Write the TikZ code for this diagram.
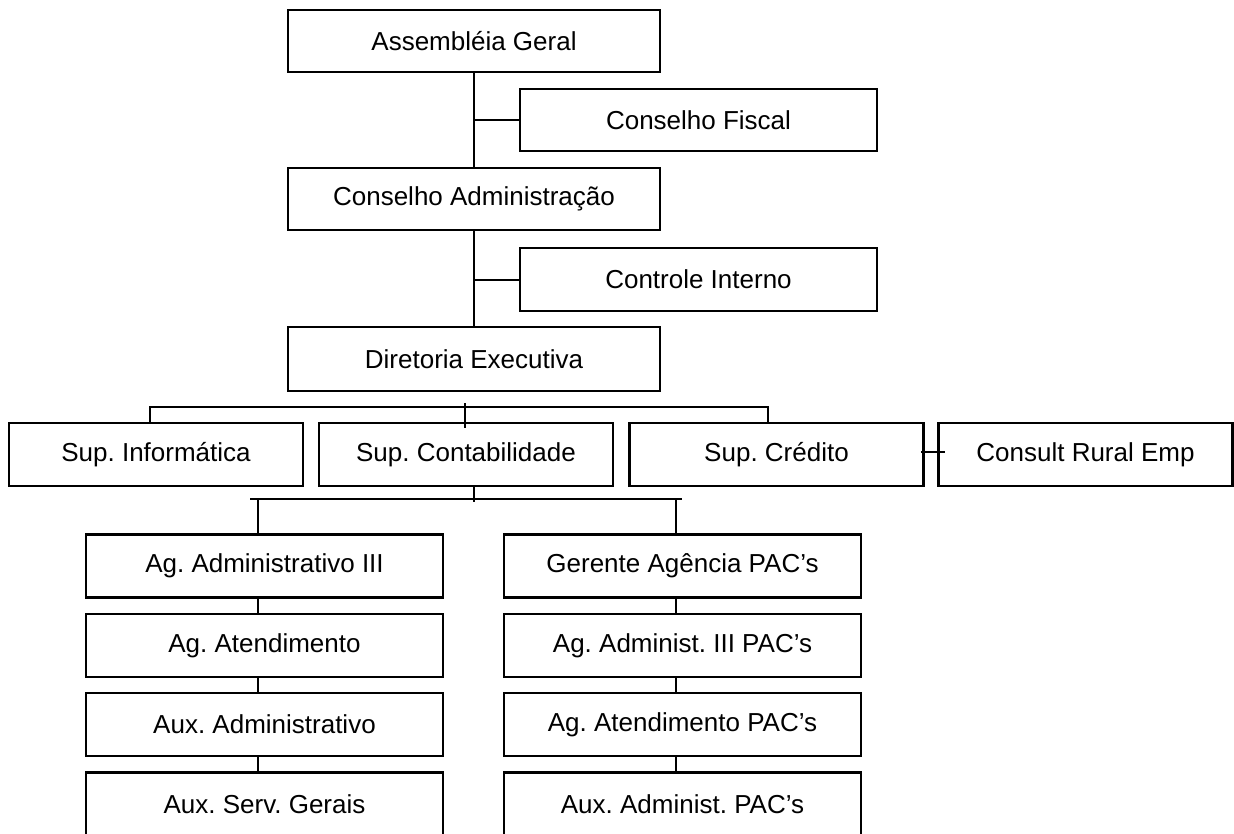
\documentclass[tikz,border=0pt]{standalone}
\usepackage{fontspec}
\setmainfont{Liberation Sans}
\frenchspacing
\begin{document}
\begin{tikzpicture}[x=0.75pt,y=-0.75pt,
  box/.style={draw=black,line width=1.6pt,rectangle,inner sep=0pt,align=center,
    font=\fontsize{19.5}{23}\selectfont\frenchspacing},
  topbox/.style={box,minimum width=372*0.75pt,minimum height=62*0.75pt},
  sidebox/.style={box,minimum width=357*0.75pt,minimum height=62*0.75pt},
  supbox/.style={box,minimum width=294*0.75pt,minimum height=63*0.75pt},
  lowbox/.style={box,minimum width=357*0.75pt,minimum height=63*0.75pt},
  conn/.style={draw=black,line width=1.5pt},
  thinconn/.style={draw=black,line width=0.8pt}]
\clip (0,0) rectangle (1234,834);
\fill[white] (0,0) rectangle (1234,834);

\node[topbox] (A) at (474,41) {Assembléia Geral};
\node[sidebox] (CF) at (698.5,120) {Conselho Fiscal};
\node[topbox] (CA) at (474,199) {Conselho Administração};
\node[sidebox,minimum height=63*0.75pt] (CI) at (698.5,279.5) {Controle Interno};
\node[topbox,minimum height=64*0.75pt] (DE) at (474,359) {Diretoria Executiva};

\node[supbox] (SI) at (156,454.5) {Sup. Informática};
\node[supbox] (SC) at (466,454.5) {Sup. Contabilidade};
\node[supbox] (SCr) at (776.5,454.5) {Sup. Crédito};
\node[supbox] (CR) at (1085.5,454.5) {Consult Rural Emp};

\node[lowbox] (L1) at (264.5,566) {Ag. Administrativo III};
\node[lowbox] (L2) at (264.5,645.5) {Ag. Atendimento};
\node[lowbox] (L3) at (264.5,724.5) {Aux. Administrativo};
\node[lowbox] (L4) at (264.5,804) {Aux. Serv. Gerais};
\node[lowbox] (R1) at (682.5,566) {Gerente Agência PAC’s};
\node[lowbox] (R2) at (682.5,645.5) {Ag. Administ. III PAC’s};
\node[lowbox] (R3) at (682.5,724.5) {Ag. Atendimento PAC’s};
\node[lowbox] (R4) at (682.5,804) {Aux. Administ. PAC’s};

% top spine
\draw[conn] (A.south) -- (CA.north);
\draw[conn] (CF.west) -- (CF.west -| A.south);
\draw[conn] (CA.south) -- (DE.north);
\draw[conn] (CI.west) -- (CI.west -| CA.south);

% upper bracket
\coordinate (b1l) at (150,407);
\coordinate (b1r) at (768,407);
\coordinate (t1) at (465,403);
\coordinate (t2) at (465,428);
\draw[conn] (b1l |- SI.north) -- (b1l) -- (b1r) -- (b1r |- SCr.north);
\draw[thinconn] (t1) -- (t2);

% consult connector
\coordinate (c1) at (921,452);
\coordinate (c2) at (945,452);
\draw[thinconn] (c1) -- (c2);

% lower bracket
\coordinate (m1) at (474,502);
\coordinate (b2l) at (250,499);
\coordinate (b2r) at (682,499);
\coordinate (d1) at (258,499);
\coordinate (d2) at (676,499);
\draw[conn] (m1 |- SC.south) -- (m1);
\draw[conn] (b2l) -- (b2r);
\draw[conn] (d1) -- (d1 |- L1.north);
\draw[conn] (d2) -- (d2 |- R1.north);

% columns
\draw[conn] (d1 |- L1.south) -- (d1 |- L2.north);
\draw[conn] (d1 |- L2.south) -- (d1 |- L3.north);
\draw[conn] (d1 |- L3.south) -- (d1 |- L4.north);
\draw[conn] (d2 |- R1.south) -- (d2 |- R2.north);
\draw[conn] (d2 |- R2.south) -- (d2 |- R3.north);
\draw[conn] (d2 |- R3.south) -- (d2 |- R4.north);
\end{tikzpicture}
\end{document}
